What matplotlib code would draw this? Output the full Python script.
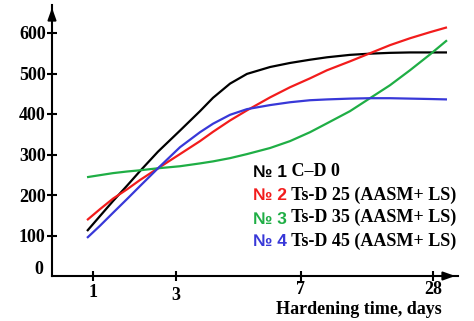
import matplotlib
matplotlib.use("Agg")
import matplotlib.pyplot as plt
from matplotlib.transforms import ScaledTranslation

# x positions along the (non-uniform) time axis; tick "1" at 0, "3" at 1, "7" at 2.506, "28" at 4.096
tick_pos = [0, 1, 2.506, 4.096]
tick_labels = ["1", "3", "7", "28"]
y_ticks = [0, 100, 200, 300, 400, 500, 600]

x_pos = [-0.072, 0.084, 0.241, 0.410, 0.566, 0.783, 1.048, 1.289, 1.446, 1.651, 1.855,
         2.133, 2.373, 2.614, 2.819, 3.096, 3.337, 3.578, 3.819, 4.060, 4.265]

s1_CD0 = [111, 148, 185, 223, 259, 307, 359, 407, 440, 475, 499,
          516, 526, 534, 540, 546, 549, 551, 552, 552, 552]
s2_TsD25 = [138, 165, 191, 214, 237, 266, 301, 333, 356, 384, 409,
            441, 466, 488, 508, 530, 550, 570, 587, 602, 614]
s3_TsD35 = [244, 249, 254, 258, 261, 266, 271, 278, 283, 291, 301,
            316, 333, 355, 377, 407, 439, 471, 508, 547, 582]
s4_TsD45 = [94, 124, 156, 190, 222, 266, 318, 355, 376, 398, 412,
            422, 429, 434, 436, 438, 439, 439, 438, 437, 436]

series = [
    ("№ 1", " C–D 0", "#000000", s1_CD0),
    ("№ 2", " Ts-D 25 (AASM+ LS)", "#f21c1c", s2_TsD25),
    ("№ 3", " Ts-D 35 (AASM+ LS)", "#1fae45", s3_TsD35),
    ("№ 4", " Ts-D 45 (AASM+ LS)", "#3838d8", s4_TsD45),
]

W, H = 474, 321
fig = plt.figure(figsize=(W / 100, H / 100), dpi=100)
x0, x1, yb, yt = 52, 458, 276, 5
ax = fig.add_axes([x0 / W, 1 - yb / H, (x1 - x0) / W, (yb - yt) / H])

u_left = (x0 - 93) / 83
u_right = (x1 - 93) / 83
ax.set_xlim(u_left, u_right)
ax.set_ylim(0, 600 * (yb - yt) / (yb - 33))

for num, rest, col, vals in series:
    ax.plot(x_pos, vals, color=col, lw=1.6, solid_joinstyle="round", solid_capstyle="butt")

for s in ["top", "right"]:
    ax.spines[s].set_visible(False)
for s in ["left", "bottom"]:
    ax.spines[s].set_linewidth(1.5)

# axis arrows
ax.annotate("", xy=(1.0, 0), xytext=(0.97, 0), xycoords="axes fraction",
            arrowprops=dict(arrowstyle="-|>,head_length=0.7,head_width=0.25", color="black", lw=1.5))
ax.annotate("", xy=(0, 1.0), xytext=(0, 0.96), xycoords="axes fraction",
            arrowprops=dict(arrowstyle="-|>,head_length=0.7,head_width=0.25", color="black", lw=1.5))

FS = 13
font = dict(family=["Liberation Serif", "DejaVu Serif"], weight="bold")

ax.set_yticks(y_ticks[1:])
ax.set_yticklabels([str(v) for v in y_ticks[1:]], fontsize=FS, **font)
ax.set_xticks(tick_pos)
ax.set_xticklabels(tick_labels, fontsize=FS, **font)
ax.tick_params(axis="both", direction="inout", length=7, width=1.5, colors="black")
ax.tick_params(axis="y", pad=1)
ax.tick_params(axis="x", pad=2)
# small vertical offsets of the x tick labels as in the reference
for lab, dy in zip(ax.get_xticklabels(), [0, -3, 3, 3]):
    lab.set_transform(lab.get_transform() + ScaledTranslation(0, dy / 100, fig.dpi_scale_trans))
# "0" label at origin
ax.text(-0.022, 0.025, "0", transform=ax.transAxes, ha="right", va="center", fontsize=FS, **font)

ax.text(442 / W, 1 - 310 / H, "Hardening time, days", transform=fig.transFigure,
        ha="right", va="center", fontsize=FS, **font)

# legend as text
leg_y = [173, 196, 219, 242]
for (num, rest, col, vals), py in zip(series, leg_y):
    t = fig.text(253 / W, 1 - py / H, num, color=col, fontsize=FS - 0.5, va="center",
                 family=["Liberation Sans", "DejaVu Sans"], weight="bold")
    ax.annotate(rest, xy=(1, 0), xycoords=t, xytext=(0, 0), textcoords="offset points",
                va="bottom", ha="left", color="black", fontsize=FS, **font)

fig.savefig("out.png", dpi=100)
